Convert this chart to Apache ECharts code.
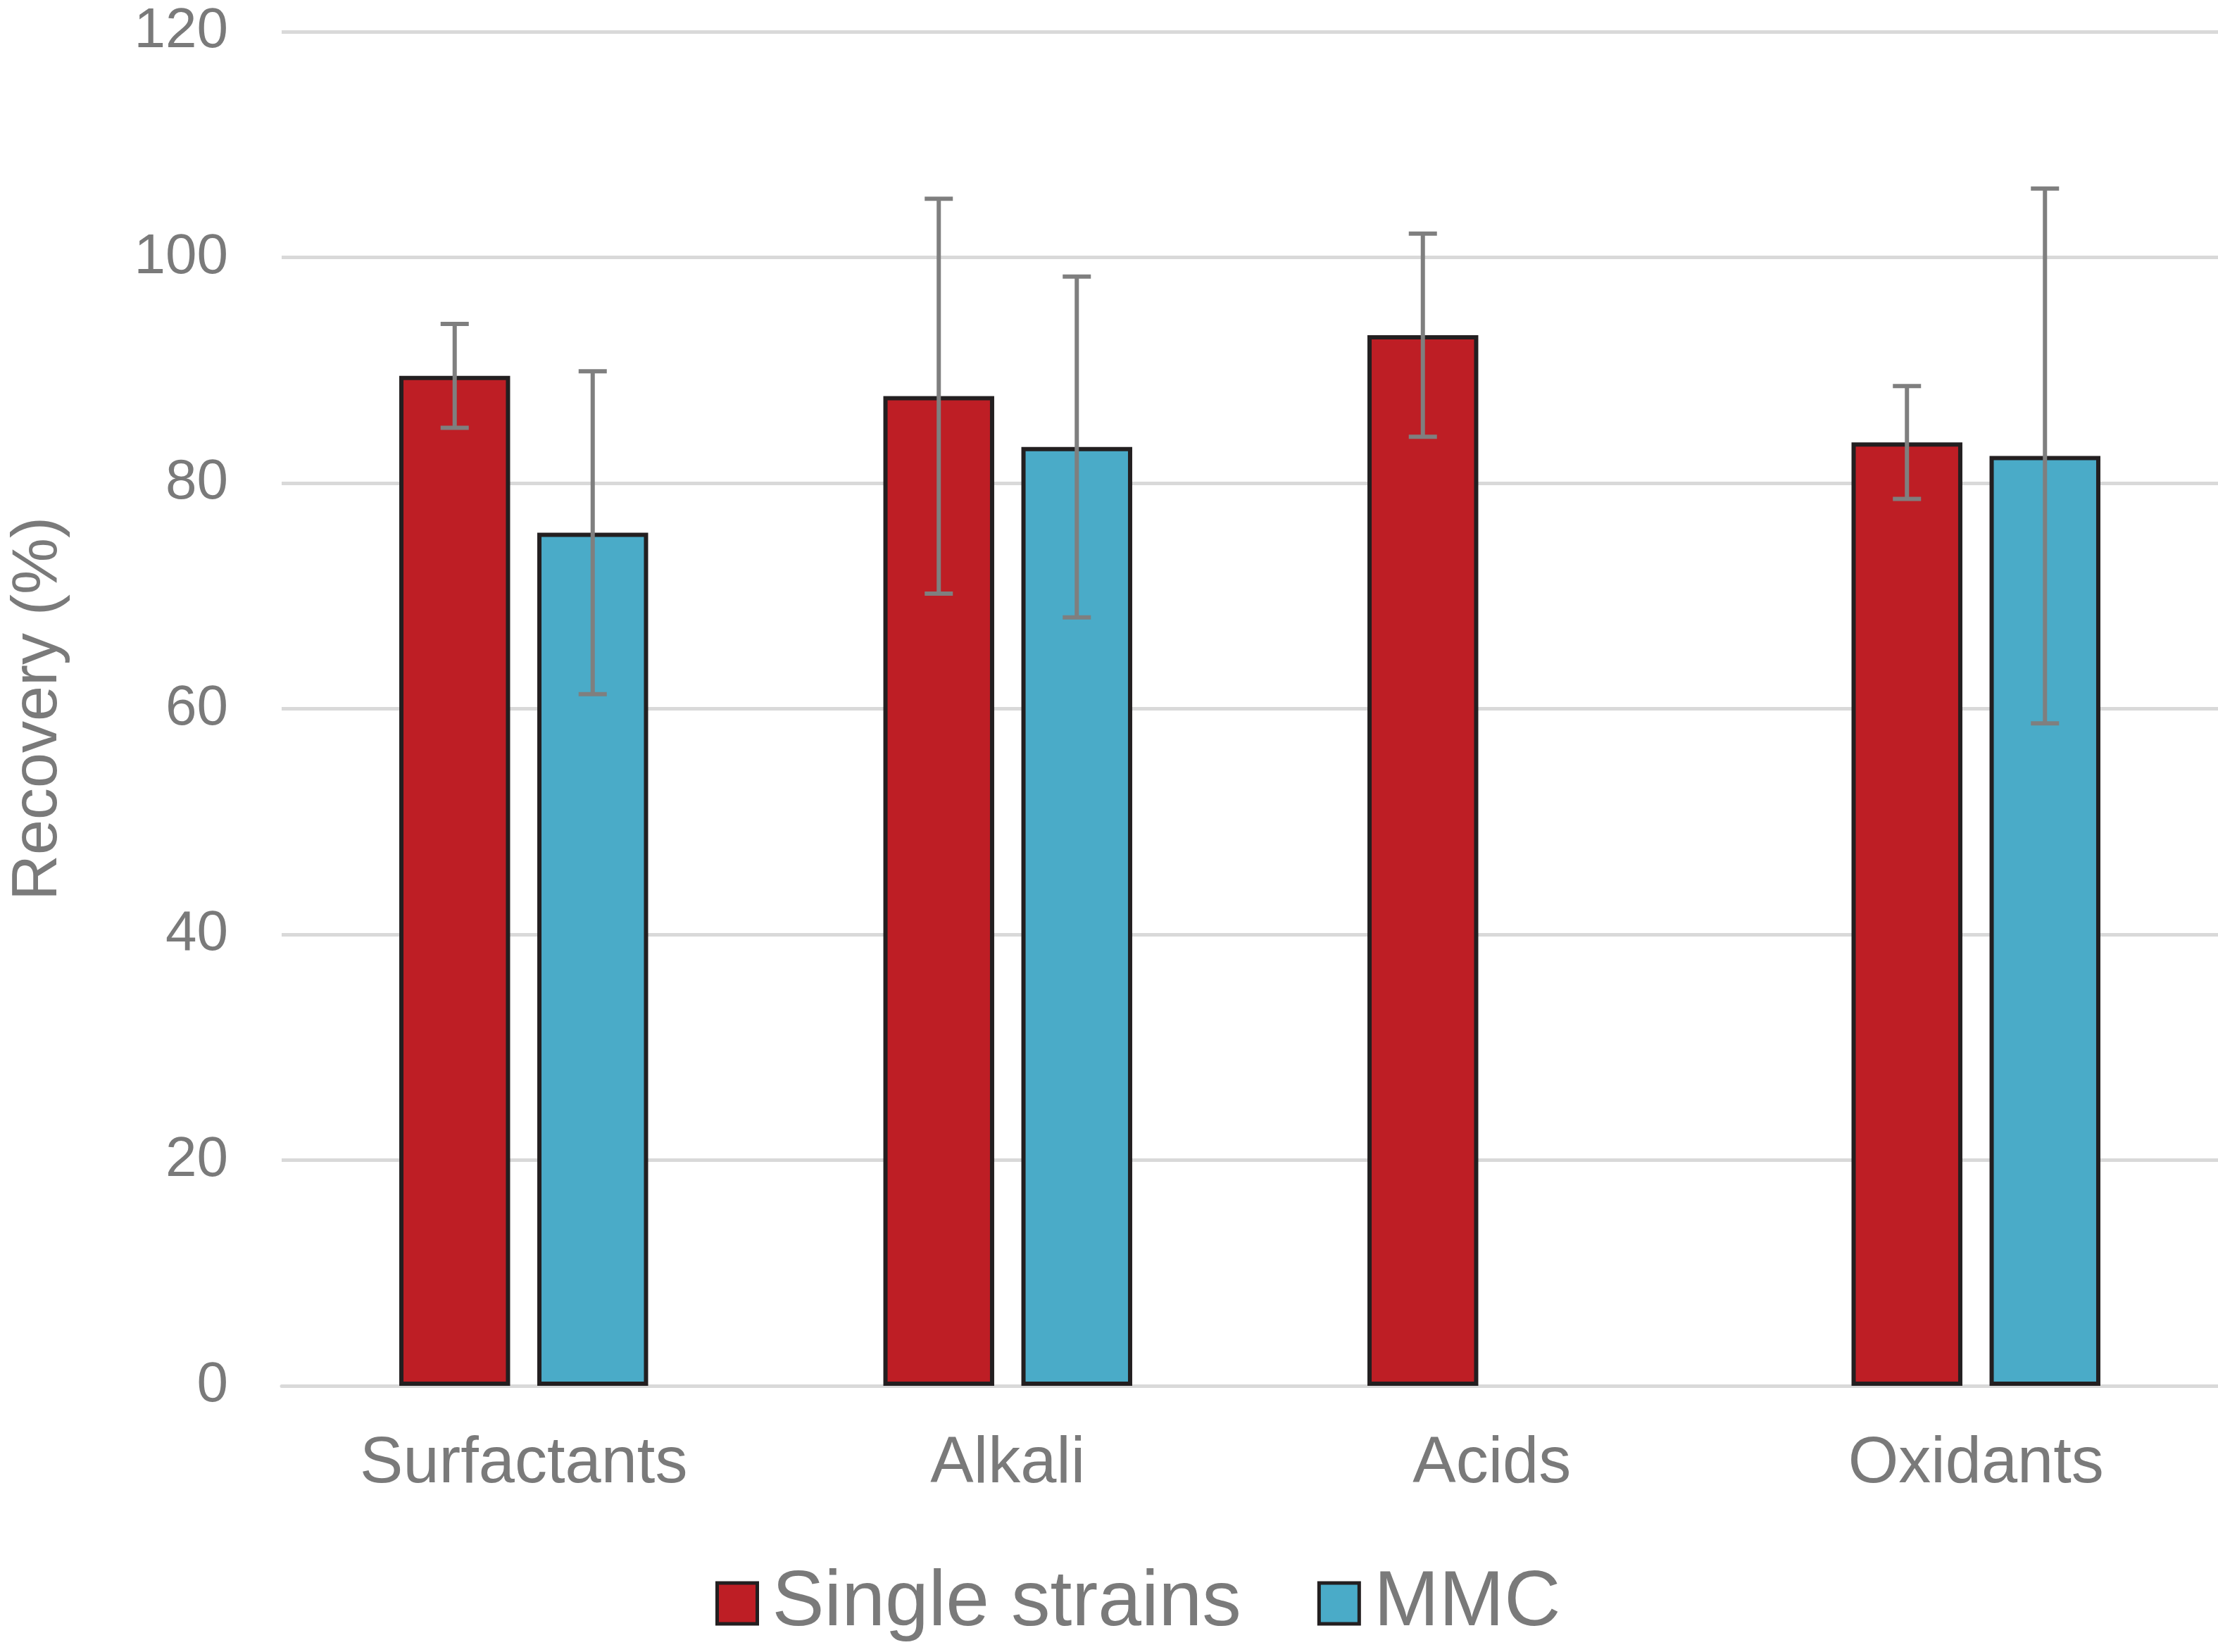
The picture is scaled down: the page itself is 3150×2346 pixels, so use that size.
<!DOCTYPE html>
<html>
<head>
<meta charset="utf-8">
<script src="https://cdn.jsdelivr.net/npm/echarts@6/dist/echarts.min.js"></script>
<style>
  html, body { margin: 0; padding: 0; background: #fff; }
  #chart { width: 3150px; height: 2346px; }
</style>
</head>
<body>
<div id="chart"></div>
<script>
var categories = ['Surfactants', 'Alkali', 'Acids', 'Oxidants'];
var singleStrains = [89.5, 87.7, 93.1, 83.6];
var singleErr = [4.6, 17.5, 9.0, 5.0];
var mmc = [75.6, 83.2, null, 82.4];
var mmcErr = [14.3, 15.1, null, 23.7];
var yTicks = [0, 20, 40, 60, 80, 100, 120];

var textColor = '#7a7a7a';
var font = 'Liberation Sans, Arial, sans-serif';
var BAR_W = 0.229;   // fraction of band
var BAR_GAP = 0.245; // fraction of bar width

var chart = echarts.init(document.getElementById('chart'));

function errorSeries(values, errs, side) {
    var data = [];
    for (var i = 0; i < values.length; i++) {
        if (values[i] == null) continue;
        data.push([i, values[i] - errs[i], values[i] + errs[i]]);
    }
    return {
        type: 'custom',
        z: 10,
        silent: true,
        data: data,
        renderItem: function (params, api) {
            var band = api.size([1, 0])[0];
            var bw = band * BAR_W;
            var off = side * (bw + bw * BAR_GAP) / 2;
            var lo = api.coord([api.value(0), api.value(1)]);
            var hi = api.coord([api.value(0), api.value(2)]);
            var x = lo[0] + off;
            var cap = 20;
            var style = { stroke: '#7f7f7f', lineWidth: 6 };
            return {
                type: 'group',
                children: [
                    { type: 'line', shape: { x1: x, y1: hi[1], x2: x, y2: lo[1] }, style: style },
                    { type: 'line', shape: { x1: x - cap, y1: hi[1], x2: x + cap, y2: hi[1] }, style: style },
                    { type: 'line', shape: { x1: x - cap, y1: lo[1], x2: x + cap, y2: lo[1] }, style: style }
                ]
            };
        }
    };
}

var option = {
    animation: false,
    backgroundColor: '#ffffff',
    textStyle: { fontFamily: font },
    grid: { left: 400, right: 0, top: 45, bottom: 378 },
    legend: {
        data: ['Single strains', 'MMC'],
        left: 1016,
        top: 2215,
        padding: 0,
        icon: 'rect',
        itemWidth: 57,
        itemHeight: 58,
        itemGap: 108,
        itemStyle: { borderColor: '#231f20', borderWidth: 5 },
        textStyle: { fontSize: 111, color: textColor, fontFamily: font, padding: [0, 0, 0, 16], lineHeight: 124 }
    },
    xAxis: {
        type: 'category',
        data: categories,
        axisLine: { show: true, lineStyle: { color: '#d9d9d9', width: 5 } },
        axisTick: { show: false },
        axisLabel: { fontSize: 92, color: textColor, margin: 66, fontFamily: font }
    },
    yAxis: {
        type: 'value',
        min: yTicks[0],
        max: yTicks[yTicks.length - 1],
        interval: 20,
        name: 'Recovery (%)',
        nameLocation: 'middle',
        nameGap: 300,
        nameTextStyle: { fontSize: 90, color: textColor, fontFamily: font },
        axisLine: { show: false },
        axisTick: { show: false },
        axisLabel: { fontSize: 80, color: textColor, margin: 76, fontFamily: font },
        splitLine: { lineStyle: { color: '#d9d9d9', width: 5 } }
    },
    series: [
        {
            name: 'Single strains',
            type: 'bar',
            data: singleStrains,
            barWidth: (BAR_W * 100) + '%',
            barGap: (BAR_GAP * 100) + '%',
            itemStyle: { color: '#be1e25', borderColor: '#231f20', borderWidth: 6 }
        },
        {
            name: 'MMC',
            type: 'bar',
            data: mmc,
            barWidth: (BAR_W * 100) + '%',
            barGap: (BAR_GAP * 100) + '%',
            itemStyle: { color: '#4aabc8', borderColor: '#231f20', borderWidth: 6 }
        },
        errorSeries(singleStrains, singleErr, -1),
        errorSeries(mmc, mmcErr, 1)
    ]
};

chart.setOption(option);
</script>
</body>
</html>
